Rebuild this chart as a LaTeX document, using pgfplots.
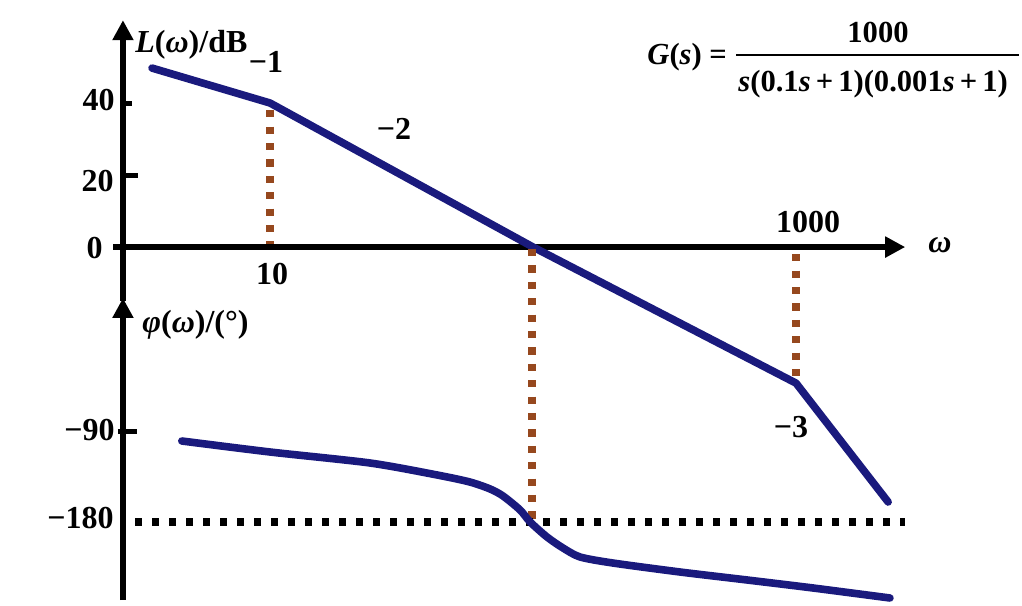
\documentclass[border=0pt]{standalone}
\usepackage{pgfplots}
\pgfplotsset{compat=1.18}
\usepackage{fontspec}
\setmainfont{Liberation Serif}
\usetikzlibrary{arrows.meta}
\definecolor{bodeblue}{RGB}{26,26,125}
\definecolor{guidebrown}{RGB}{150,72,30}
\pgfplotsset{bodebase/.style={scale only axis, width=511pt, height=302.5pt,
  xmin=0.9406, xmax=7228, axis lines=none, clip=false,
  at={(0,0)}, anchor=south west}}
\tikzset{axarrow/.style={line width=2.8pt, -{Triangle[length=10pt,width=10pt]}}}
\begin{document}
\begin{tikzpicture}
% ---------- magnitude (dB) ----------
\begin{semilogxaxis}[bodebase, ymin=-99.4, ymax=68.6]
% guide lines
\addplot[guidebrown, line width=3.6pt, dash pattern=on 3.6pt off 4.6pt] coordinates {(10,38) (10,0)};
\addplot[guidebrown, line width=3.6pt, dash pattern=on 3.6pt off 4.6pt] coordinates {(1000,-2) (1000,-36)};
% axes
\draw[axarrow] (axis cs:2.53,0) -- (axis cs:2600,0);
\draw[axarrow] (axis cs:2.76,-15) -- (axis cs:2.76,63);
\draw[line width=2.5pt] (axis cs:2.76,40) -- (axis cs:2.99,40);
\draw[line width=2.5pt] (axis cs:2.76,20) -- (axis cs:3.15,20);
% asymptotic magnitude
\addplot[bodeblue, line width=3.8pt, line join=round, line cap=round]
  coordinates {(3.56,49.7) (10,40) (100,0) (1000,-37.8) (2239,-70.8)};
\end{semilogxaxis}
% ---------- phase (deg) ----------
\begin{semilogxaxis}[bodebase, ymin=-263, ymax=342]
\addplot[guidebrown, line width=3.6pt, dash pattern=on 3.6pt off 4.6pt] coordinates {(99.1,93) (99.1,-178)};
\draw[axarrow] (axis cs:2.76,-258) -- (axis cs:2.76,44);
\draw[line width=2.5pt] (axis cs:2.64,-90) -- (axis cs:3.12,-90);
\draw[line width=3.6pt, dash pattern=on 3.6pt off 4.9pt] (axis cs:3.07,-180) -- (axis cs:2600,-180);
\addplot[bodeblue, line width=3.8pt, line cap=round, smooth, tension=0.45]
  coordinates {(4.62,-99) (10,-110) (24,-121) (43.2,-133) (57.5,-140) (68.7,-147)
  (76.9,-154) (89.3,-168) (97.5,-180) (113,-195) (130,-206) (151,-215) (201,-221)
  (362,-230) (652,-238) (1161,-246) (2275,-256)};
\end{semilogxaxis}
% ---------- labels ----------
\begin{scope}[shift={(0,302.5pt)}, x=0.5pt, y=-0.5pt,
  every node/.style={inner sep=0pt, font=\fontsize{16}{19}\selectfont\bfseries}]
\node[anchor=base west] at (135,53) {\textit{L}(\textit{ω})/dB};
\node[anchor=base] at (266,73) {−1};
\node[anchor=base] at (394,140) {−2};
\node[anchor=base] at (272,285) {10};
\node[anchor=base] at (808,233) {1000};
\node[anchor=base] at (940,253) {\textit{ω}};
\node[anchor=base west] at (142,333) {\textit{φ}(\textit{ω})/(°)};
\node[anchor=base] at (791,438) {−3};
\node[anchor=base east] at (115,111) {40};
\node[anchor=base east] at (114,192) {20};
\node[anchor=base east] at (103,259) {0};
\node[anchor=base east] at (115,441) {−90};
\node[anchor=base east] at (114,529) {−180};
% transfer function
\begin{scope}[every node/.style={inner sep=0pt, font=\fontsize{15.3}{18}\selectfont\bfseries}]
\node[anchor=base west] at (647,65) {\textit{G}(\textit{s}) =};
\node[anchor=base] at (878,43) {1000};
\draw[line width=1pt] (736,55) -- (1019,55);
\node[anchor=base west] at (738,92) {\textit{s}(0.1\textit{s}\,+\,1)(0.001\textit{s}\,+\,1)};
\end{scope}
\end{scope}
\pgfresetboundingbox
\useasboundingbox (0,0) rectangle (511pt,302.5pt);
\end{tikzpicture}
\end{document}
